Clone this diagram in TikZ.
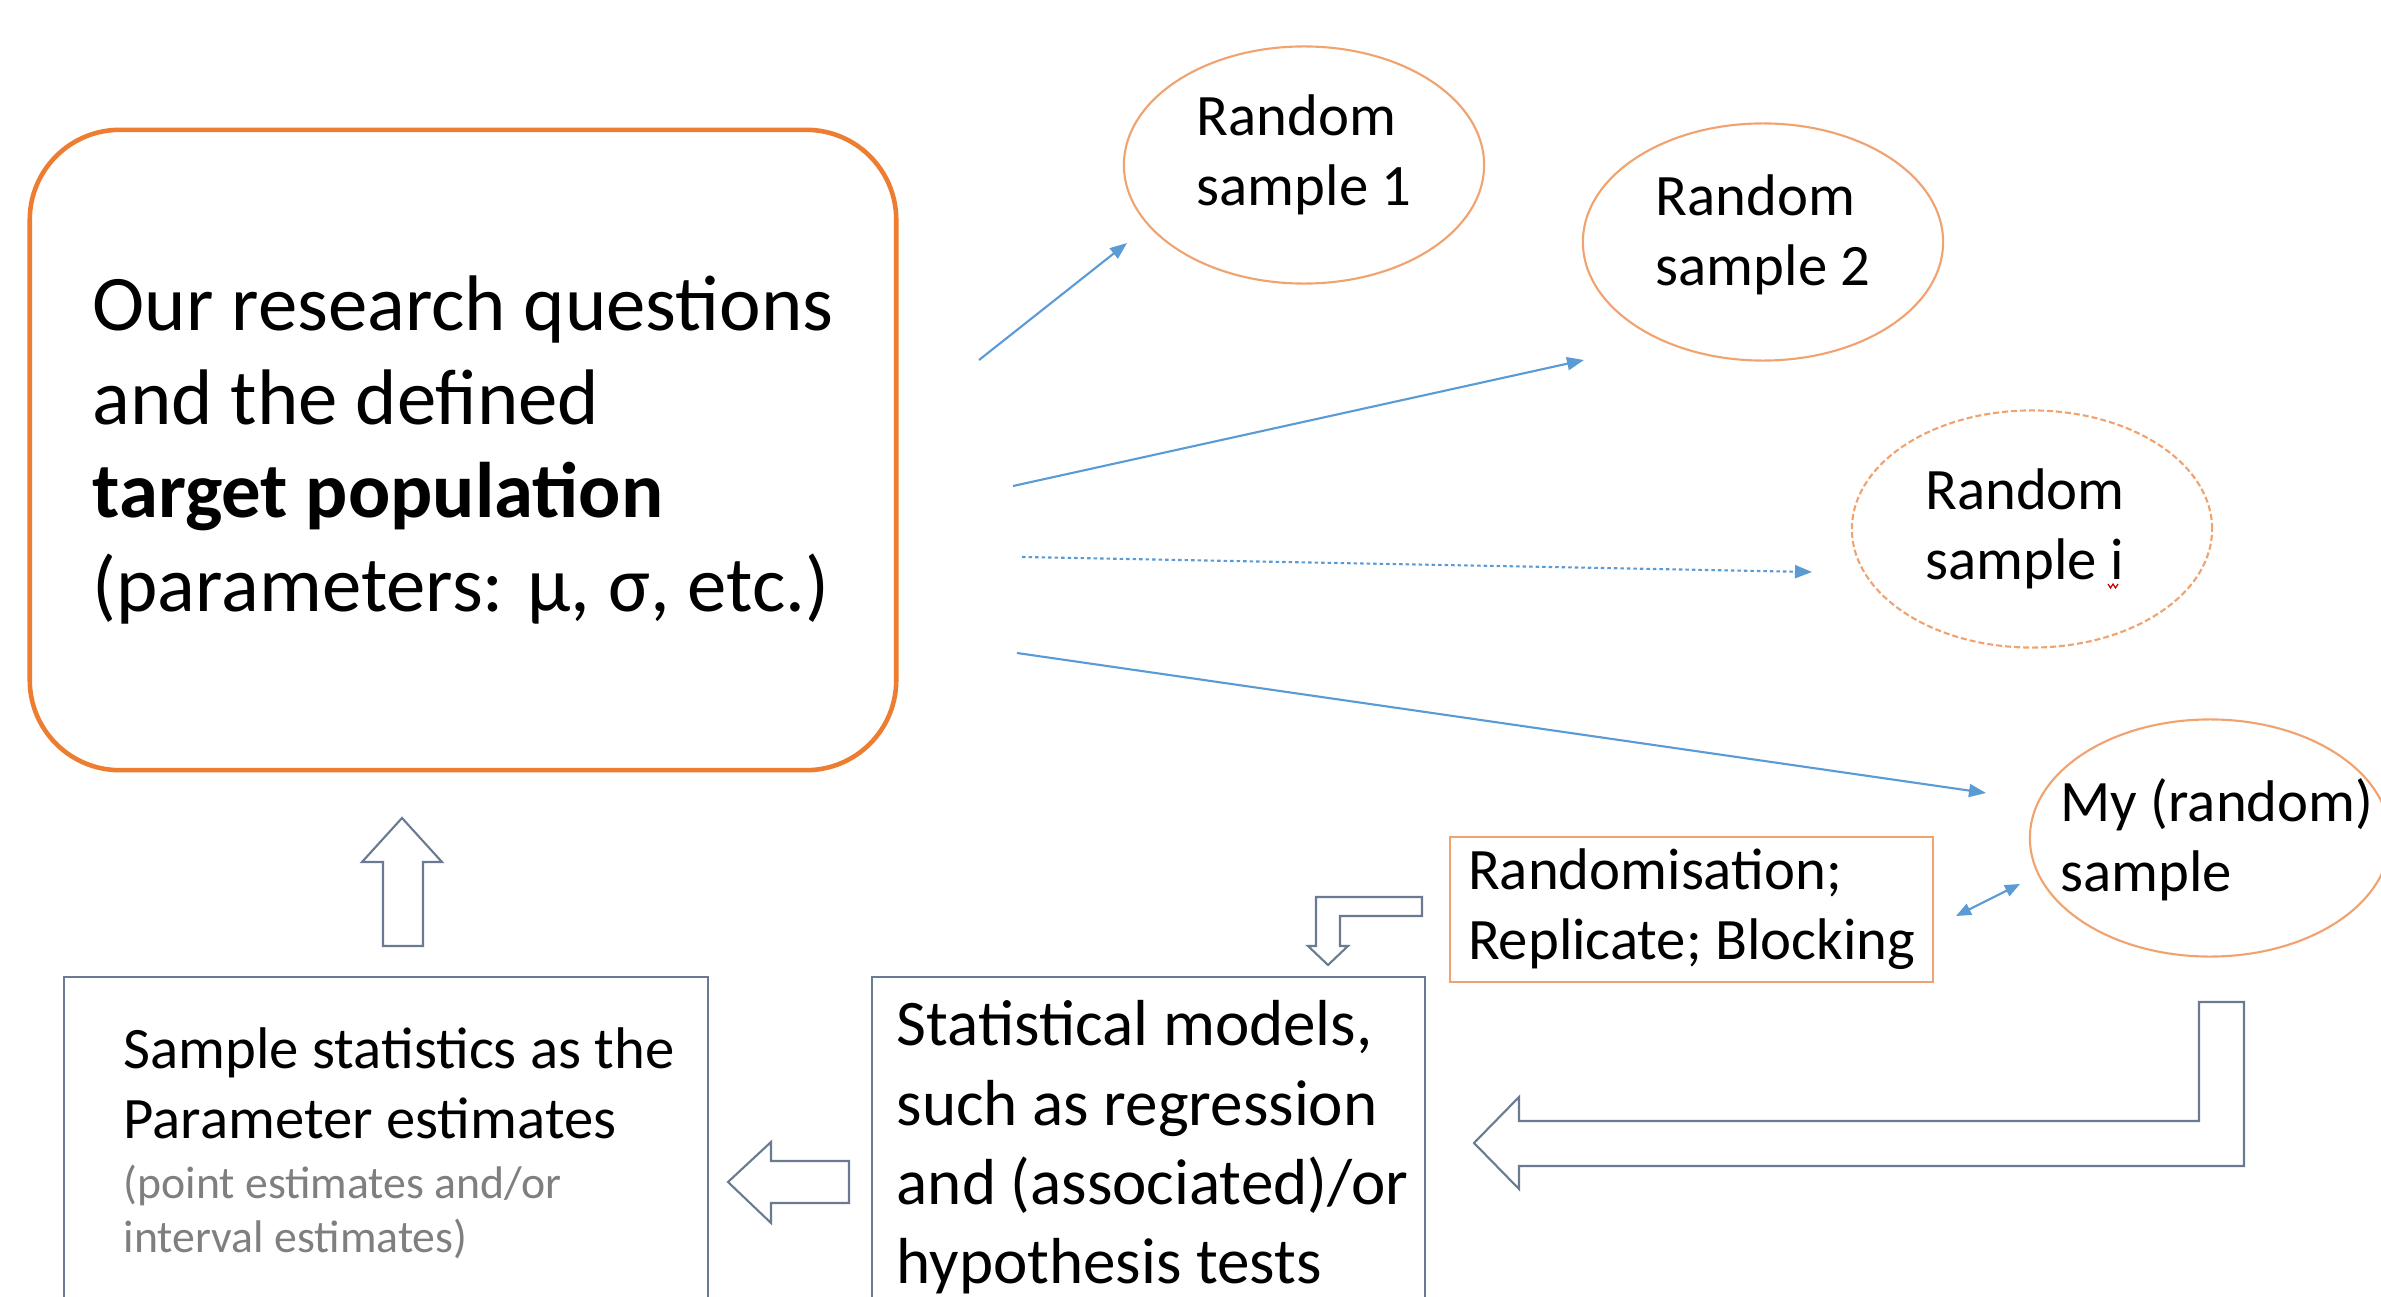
\documentclass[tikz,border=0pt]{standalone}
\usepackage{fontspec}
\setmainfont{Carlito}
\usetikzlibrary{arrows.meta,shapes.geometric}
\definecolor{orng}{HTML}{ED7D31}
\definecolor{lorng}{HTML}{F0A36E}
\definecolor{blu}{HTML}{5B9BD5}
\definecolor{slate}{HTML}{6A7B91}
\definecolor{graytxt}{HTML}{7F7F7F}
\begin{document}
\begin{tikzpicture}[x=0.01cm,y=-0.01cm,
  conn/.style={blu, line width=0.6pt, -{Triangle[length=0.17cm,width=0.13cm]}},
  dconn/.style={blu, line width=0.6pt, {Triangle[length=0.15cm,width=0.12cm]}-{Triangle[length=0.15cm,width=0.12cm]}},
  samp/.style={ellipse, draw=lorng, line width=0.6pt, minimum width=3.6cm, minimum height=2.37cm, inner sep=0pt, align=left, font=\fontsize{16.7}{19.9}\selectfont},
  plainbox/.style={draw=slate, line width=0.6pt, inner sep=0pt},
  blockarrow/.style={draw=slate, fill=white, line width=0.6pt, line join=miter},
  txt/.style={inner sep=0pt, align=left}]
\clip (0,0) rectangle (2381,1297);
\fill[white] (0,0) rectangle (2381,1297);

% population box
\node[draw=orng, line width=1.3pt, rounded corners=0.9cm, minimum width=8.66cm, minimum height=6.4cm,
      align=left, font=\fontsize{22.4}{26.7}\selectfont] (pop) at (463,450)
  {Our research questions\\and the defined\\\textbf{target population}\\(parameters: μ, σ, etc.)};

% samples
\node[samp, text depth=0.3cm] (s1) at (1304,165) {Random\\sample 1};
\node[samp, text depth=0.24cm] (s2) at (1763,242) {Random\\sample 2};
\node[samp, dashed, dash pattern=on 0.06cm off 0.03cm,
      label={[txt, font=\fontsize{16.7}{19.9}\selectfont, xshift=-0.07cm]center:{Random\\sample i}}] (si) at (2032,529) {};
\node[samp, label={[txt, font=\fontsize{16.7}{19.9}\selectfont, xshift=0.07cm, yshift=-0.02cm]center:{My (random)\\sample}}] (my) at (2210,838) {};

% spell-check squiggle
\draw[red!80!black, line width=0.35pt] (2108,584) -- (2110.5,588) -- (2113,584) -- (2115.5,588) -- (2118,584);

% randomisation box
\node[draw=lorng, line width=0.6pt, minimum width=4.83cm, minimum height=1.39cm, align=left,
      font=\fontsize{16.7}{19.9}\selectfont] (rand) at (1691.5,909.5)
  {Randomisation;\\Replicate; Blocking};

% bottom boxes
\node[plainbox, minimum width=6.44cm, minimum height=3.6cm] (ss) at (386,1157) {};
\node[txt, anchor=north west, font=\fontsize{16.7}{19.9}\selectfont] (sstext) at (123,1027)
  {Sample statistics as the\\Parameter estimates};
\node[txt, anchor=north west, text=graytxt, font=\fontsize{13}{15.6}\selectfont] (ssnote) at (123,1164)
  {(point estimates and/or\\interval estimates)};

\node[plainbox, minimum width=5.53cm, minimum height=3.6cm] (sm) at (1148.5,1157) {};
\node[txt, anchor=north west, font=\fontsize{18.5}{22.5}\selectfont] (smtext) at (896,1000)
  {Statistical models,\\such as regression\\and (associated)/or\\hypothesis tests};

% thin arrows
\coordinate (a1s) at (979,360);  \coordinate (a1e) at (1127,243);
\coordinate (a2s) at (1013,486); \coordinate (a2e) at (1584,360);
\coordinate (a3s) at (1022,557); \coordinate (a3e) at (1812,572);
\coordinate (a4s) at (1017,653); \coordinate (a4e) at (1986,793);
\coordinate (a5s) at (1956,916); \coordinate (a5e) at (2020,884);
\draw[conn] (a1s) -- (a1e);
\draw[conn] (a2s) -- (a2e);
\draw[conn, dash pattern=on 0.035cm off 0.03cm] (a3s) -- (a3e);
\draw[conn] (a4s) -- (a4e);
\draw[dconn] (a5s) -- (a5e);

% block arrows
\draw[blockarrow] (383,946) -- (383,862) -- (362,862) -- (402,818) -- (442,862) -- (423,862) -- (423,946) -- cycle;
\draw[blockarrow] (849,1161) -- (771,1161) -- (771,1142) -- (728,1182) -- (771,1223) -- (771,1203) -- (849,1203) -- cycle;
\draw[blockarrow] (1422,897) -- (1316,897) -- (1316,946) -- (1308,946) -- (1328,965) -- (1348,946) -- (1340,946) -- (1340,916) -- (1422,916) -- cycle;
\draw[blockarrow] (2199,1002) -- (2244,1002) -- (2244,1166) -- (1519,1166) -- (1519,1189) -- (1474,1143) -- (1519,1097) -- (1519,1121) -- (2199,1121) -- cycle;
\end{tikzpicture}
\end{document}
